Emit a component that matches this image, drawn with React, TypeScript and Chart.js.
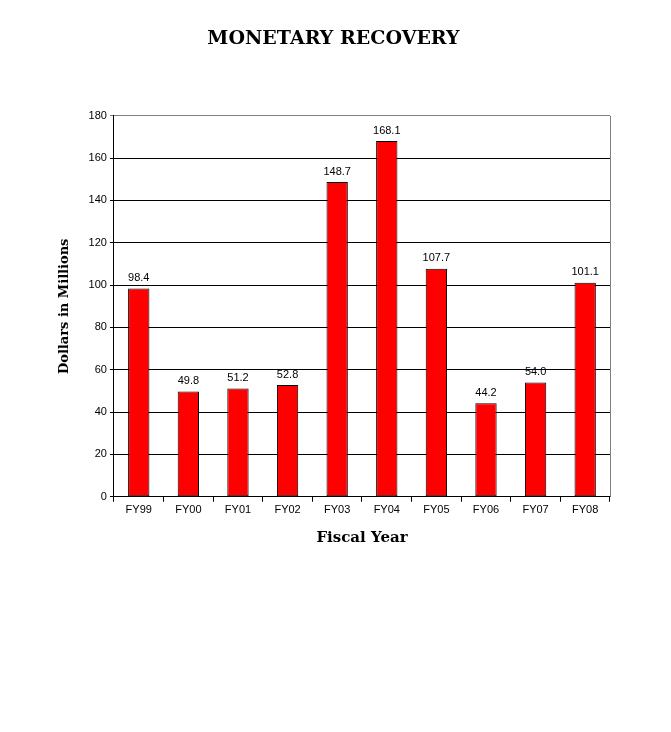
import React, { useEffect, useRef } from "react";
import { Chart, registerables } from "chart.js";

Chart.register(...registerables);

const categories = ["FY99", "FY00", "FY01", "FY02", "FY03", "FY04", "FY05", "FY06", "FY07", "FY08"];
const recoveryValues = [98.4, 49.8, 51.2, 52.8, 148.7, 168.1, 107.7, 44.2, 54.0, 101.1];
const valueLabels = ["98.4", "49.8", "51.2", "52.8", "148.7", "168.1", "107.7", "44.2", "54.0", "101.1"];

const SANS = "'Liberation Sans', Arial, sans-serif";
const SERIF = "'DejaVu Serif', 'Liberation Serif', serif";

const extrasPlugin = {
  id: "extras",
  afterDatasetsDraw(chart: any) {
    const { ctx, chartArea } = chart;
    ctx.save();
    ctx.strokeStyle = "#808080";
    ctx.lineWidth = 1;
    ctx.beginPath();
    ctx.moveTo(Math.round(chartArea.right) + 0.5, chartArea.top);
    ctx.lineTo(Math.round(chartArea.right) + 0.5, chartArea.bottom);
    ctx.stroke();
    const meta = chart.getDatasetMeta(0);
    ctx.fillStyle = "#000";
    ctx.font = `11px ${SANS}`;
    ctx.textAlign = "center";
    ctx.textBaseline = "bottom";
    meta.data.forEach((bar: any, i: number) => {
      ctx.fillText(valueLabels[i], bar.x, bar.y - 5);
    });
    ctx.restore();
  },
};

export default function App() {
  const ref = useRef<HTMLCanvasElement | null>(null);
  useEffect(() => {
    if (!ref.current) return;
    const chart = new Chart(ref.current, {
      type: "bar",
      data: {
        labels: categories,
        datasets: [
          {
            data: recoveryValues,
            backgroundColor: "#FF0000",
            borderColor: "#000000",
            borderWidth: 1,
            borderSkipped: false,
            barPercentage: 0.43,
            categoryPercentage: 1,
          },
        ],
      },
      options: {
        responsive: false,
        animation: false,
        layout: { padding: { left: 57, right: 61, top: 0, bottom: 185 } },
        plugins: {
          legend: { display: false },
          tooltip: { enabled: false },
          title: {
            display: true,
            text: "MONETARY RECOVERY",
            color: "#000",
            font: { family: SERIF, size: 19, weight: "bold" },
            padding: { top: 28, bottom: 65 },
          },
        },
        scales: {
          x: {
            grid: {
              display: true,
              drawOnChartArea: false,
              offset: true,
              tickLength: 5,
              color: "#000",
            },
            border: { display: true, color: "#000", width: 1 },
            ticks: { color: "#000", font: { family: SANS, size: 11 }, padding: 2 },
            title: {
              display: true,
              text: "Fiscal Year",
              color: "#000",
              font: { family: SERIF, size: 15, weight: "bold" },
              padding: { top: 10, bottom: 0 },
            },
          },
          y: {
            min: 0,
            max: 180,
            ticks: { stepSize: 20, color: "#000", font: { family: SANS, size: 11 }, padding: 3 },
            grid: {
              tickLength: 4,
              color: (c: any) => (c.tick && c.tick.value === 180 ? "#808080" : "#000"),
            },
            border: { display: true, color: "#000", width: 1 },
            title: {
              display: true,
              text: "Dollars in Millions",
              color: "#000",
              font: { family: SERIF, size: 13, weight: "bold" },
              padding: { top: 0, bottom: 13 },
            },
          },
        },
      },
      plugins: [extrasPlugin],
    });
    return () => chart.destroy();
  }, []);
  return (
    <div style={{ position: "absolute", left: 0, top: 0, width: 671, height: 732, background: "#fff" }}>
      <canvas ref={ref} width={671} height={732} style={{ display: "block" }} />
    </div>
  );
}
